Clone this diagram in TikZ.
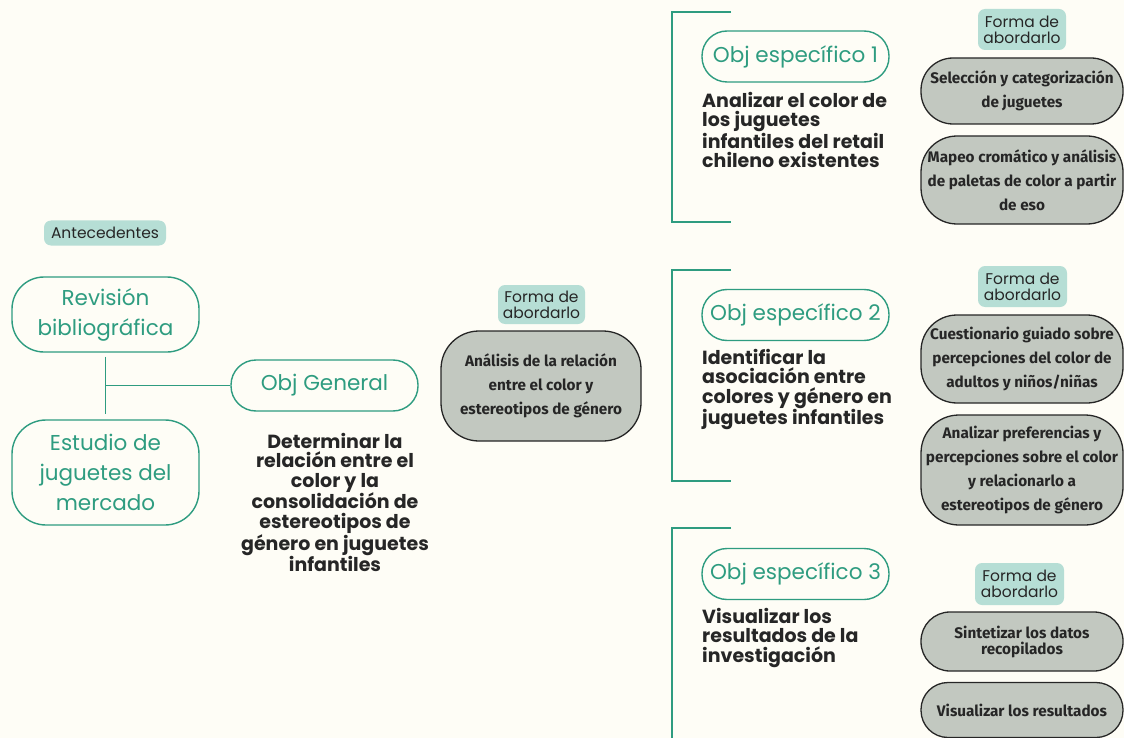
\documentclass[tikz,border=0pt]{standalone}
\usepackage{fontspec}
\setmainfont{Poppins}
\newfontfamily\boxff{Fira Sans}
\usetikzlibrary{calc}
\definecolor{bgc}{HTML}{FEFDF6}
\definecolor{tealc}{HTML}{2E9C80}
\definecolor{tagc}{HTML}{B6DED5}
\definecolor{grayc}{HTML}{C2C8C0}
\definecolor{darkc}{HTML}{262626}
\tikzset{
  tagnode/.style={fill=tagc, rounded corners=7pt, text=darkc, align=center, inner sep=0pt,
    font=\fontsize{15.5}{16}\selectfont},
  tealbox/.style={draw=tealc, line width=1.4pt, fill=bgc, text=tealc, align=center, inner sep=0pt,
    font=\fontsize{21.5}{30}\selectfont},
  objbox/.style={tealbox, rounded corners=25pt, minimum width=187pt, minimum height=51pt},
  graybox/.style={draw=darkc, fill=grayc, line width=1.3pt, align=center, inner sep=0pt,
    text=darkc, minimum width=202pt, font=\boxff\bfseries\fontsize{15.3}{24}\selectfont},
  boldtext/.style={text=darkc, inner sep=0pt, font=\bfseries\fontsize{19}{19.3}\selectfont},
  link/.style={draw=tealc, line width=1.4pt},
}
\begin{document}
\begin{tikzpicture}[x=1pt,y=-1pt]
\fill[bgc] (0,0) rectangle (1124,738);
\useasboundingbox (0,0) rectangle (1124,738);

% left part
\node[tagnode, minimum width=122pt, minimum height=25pt] (ante) at (105,233) {Antecedentes};
\node[tealbox, rounded corners=32pt, minimum width=187pt, minimum height=75pt] (rev) at (105.5,314.5) {Revisión\\bibliográfica};
\node[tealbox, rounded corners=34pt, minimum width=187pt, minimum height=105pt] (est) at (105.5,472.5) {Estudio de\\juguetes del\\mercado};
\node[objbox] (objg) at (324.5,385.5) {Obj General};
\coordinate (junc) at (105,385.5);
\draw[link, shorten <=4pt, shorten >=5pt] (rev.south) -- (est.north);
\draw[link] (junc) -- (objg.west);
\node[boldtext, align=center, anchor=north] (detg) at (335,433) {Determinar la\\relación entre el\\color y la\\consolidación de\\estereotipos de\\género en juguetes\\infantiles};

% middle
\node[tagnode, minimum width=87pt, minimum height=39pt] (tagg) at (541.5,304.5) {Forma de\\abordarlo};
\node[graybox, rounded corners=38pt, minimum width=200pt, minimum height=110pt] (ana) at (541,386) {Análisis de la relación\\entre el color y\\estereotipos de género};

% brackets
\draw[link] (731,12) -- (672,12) -- (672,222) -- (731,222);
\draw[link] (731,270) -- (672,270) -- (672,481) -- (731,481);
\draw[link] (731,528) -- (672,528) -- (672,739);

% objective 1
\node[objbox] (o1) at (795.5,56.5) {Obj específico 1};
\node[boldtext, align=left, anchor=north west] (t1) at (702,92) {Analizar el color de\\los juguetes\\infantiles del retail\\chileno existentes};
\node[tagnode, minimum width=88pt, minimum height=41pt] (tag1) at (1022,29.5) {Forma de\\abordarlo};
\node[graybox, rounded corners=32pt, minimum height=66pt] (g1) at (1022,91) {Selección y categorización\\de juguetes};
\node[graybox, rounded corners=36pt, minimum height=88pt] (g2) at (1022,180) {Mapeo cromático y análisis\\de paletas de color a partir\\de eso};

% objective 2
\node[objbox] (o2) at (795.5,315) {Obj específico 2};
\node[boldtext, align=left, anchor=north west] (t2) at (702,349) {Identificar la\\asociación entre\\colores y género en\\juguetes infantiles};
\node[tagnode, minimum width=89pt, minimum height=41pt] (tag2) at (1022.5,286.5) {Forma de\\abordarlo};
\node[graybox, rounded corners=36pt, minimum height=88pt] (g3) at (1022,359) {Cuestionario guiado sobre\\percepciones del color de\\adultos y niños/niñas};
\node[graybox, rounded corners=38pt, minimum height=110pt] (g4) at (1022,470) {Analizar preferencias y\\percepciones sobre el color\\y relacionarlo a\\estereotipos de género};

% objective 3
\node[objbox] (o3) at (795.5,574) {Obj específico 3};
\node[boldtext, align=left, anchor=north west] (t3) at (702,608) {Visualizar los\\resultados de la\\investigación};
\node[tagnode, minimum width=89pt, minimum height=42pt] (tag3) at (1019.5,584) {Forma de\\abordarlo};
\node[graybox, rounded corners=29pt, minimum height=59pt, font=\boxff\bfseries\fontsize{15.3}{16}\selectfont] (g5) at (1022,641.5) {Sintetizar los datos\\recopilados};
\node[graybox, rounded corners=27pt, minimum height=55pt] (g6) at (1022,710) {Visualizar los resultados};
\end{tikzpicture}
\end{document}
